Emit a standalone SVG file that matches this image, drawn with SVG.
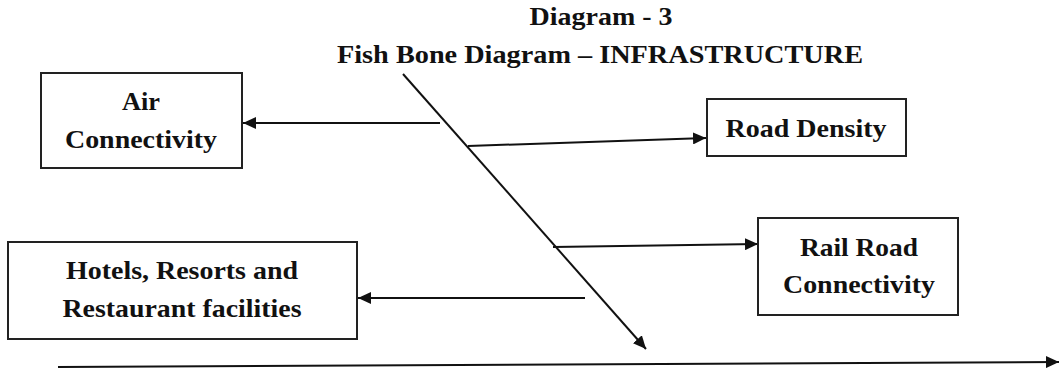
<svg xmlns="http://www.w3.org/2000/svg" width="1060" height="369" viewBox="0 0 1060 369">
<style>
text{font-family:"Liberation Serif","Times New Roman",serif;font-weight:bold;font-size:26px;fill:#111;text-anchor:middle}
.box{fill:#fff;stroke:#222;stroke-width:2}
.ln{stroke:#111;stroke-width:2;fill:none;marker-end:url(#ah)}
</style>
<defs>
<marker id="ah" markerUnits="userSpaceOnUse" markerWidth="14" markerHeight="12" refX="13" refY="6" orient="auto">
<path d="M0,0 L13,6 L0,12 Z" fill="#111"/>
</marker>
</defs>
<g id="title">
<text x="601" y="25" textLength="143" lengthAdjust="spacingAndGlyphs">Diagram - 3</text>
<text x="600" y="63" textLength="526" lengthAdjust="spacingAndGlyphs">Fish Bone Diagram – INFRASTRUCTURE</text>
</g>
<g id="connectors">
<line class="ln" x1="58" y1="367" x2="1059" y2="362"/>
<line class="ln" x1="403" y1="74" x2="646" y2="349"/>
<line class="ln" x1="440" y1="123" x2="243" y2="123"/>
<line class="ln" x1="468" y1="146" x2="706" y2="138"/>
<line class="ln" x1="553" y1="247" x2="758" y2="244"/>
<line class="ln" x1="585" y1="298" x2="358" y2="298"/>
</g>
<g id="air">
<rect class="box" x="41" y="73" width="201" height="95"/>
<text x="141" y="110" textLength="38" lengthAdjust="spacingAndGlyphs">Air</text>
<text x="141" y="148" textLength="152" lengthAdjust="spacingAndGlyphs">Connectivity</text>
</g>
<g id="road">
<rect class="box" x="707" y="99" width="199" height="57"/>
<text x="806" y="137" textLength="161" lengthAdjust="spacingAndGlyphs">Road Density</text>
</g>
<g id="rail">
<rect class="box" x="758" y="218" width="200" height="97"/>
<text x="859" y="256" textLength="118" lengthAdjust="spacingAndGlyphs">Rail Road</text>
<text x="859" y="293" textLength="152" lengthAdjust="spacingAndGlyphs">Connectivity</text>
</g>
<g id="hotels">
<rect class="box" x="8" y="242" width="349" height="97"/>
<text x="182" y="279" textLength="232" lengthAdjust="spacingAndGlyphs">Hotels, Resorts and</text>
<text x="182" y="317" textLength="239" lengthAdjust="spacingAndGlyphs">Restaurant facilities</text>
</g>
</svg>
